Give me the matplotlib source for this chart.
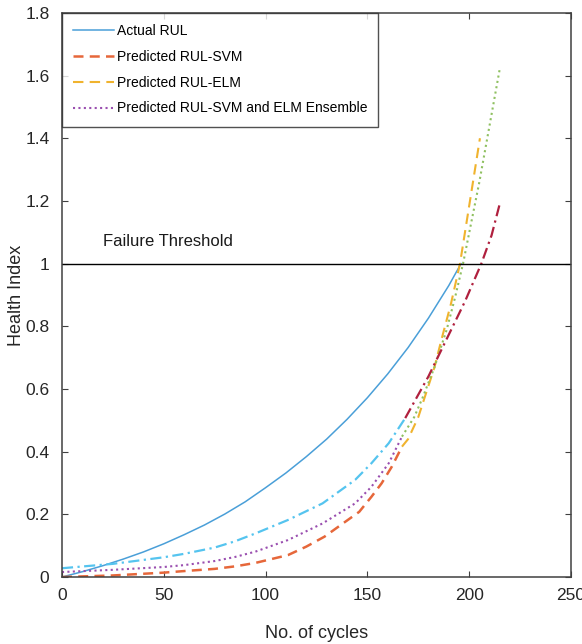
import matplotlib
matplotlib.use("Agg")
import matplotlib.pyplot as plt

plt.rcParams['font.family'] = ['Liberation Sans', 'DejaVu Sans']

# values (cycles, health index)
actual_x = [0, 10, 20, 30, 40, 50, 60, 70, 80, 90, 100, 110, 120, 130, 140, 150, 160, 170, 180, 190, 196]
actual_y = [0, 0.017, 0.036, 0.057, 0.080, 0.106, 0.135, 0.166, 0.201, 0.240, 0.285, 0.332, 0.384,
            0.440, 0.503, 0.572, 0.648, 0.732, 0.826, 0.930, 1.0]

svm_x = [0, 25, 50, 60, 75, 85, 95, 111, 120, 129, 138, 146, 152, 157, 162, 167]
svm_y = [0.0, 0.005, 0.014, 0.019, 0.026, 0.034, 0.045, 0.070, 0.097, 0.129, 0.171, 0.208, 0.256,
         0.299, 0.352, 0.416]

elm_x = [167, 170, 175, 179, 183, 186.5, 191, 195.5, 200.4, 205.3]
elm_y = [0.416, 0.44, 0.51, 0.59, 0.67, 0.76, 0.87, 1.0, 1.2, 1.4]

ens_x = [0, 25, 50, 60, 75, 85, 95, 111, 128, 144, 152, 160.5, 167]
ens_y = [0.016, 0.023, 0.032, 0.038, 0.051, 0.064, 0.081, 0.118, 0.171, 0.235, 0.288, 0.363, 0.448]

ens2_x = [167, 173, 177, 183, 189, 193, 197, 201, 205, 210, 215]
ens2_y = [0.448, 0.51, 0.57, 0.67, 0.79, 0.89, 1.0, 1.13, 1.26, 1.44, 1.62]

dd_x = [0, 25, 50, 60, 75, 85, 95, 111, 128, 144, 152, 160.5, 168.6]
dd_y = [0.028, 0.042, 0.063, 0.074, 0.094, 0.114, 0.139, 0.182, 0.235, 0.310, 0.363, 0.427, 0.507]

dd2_x = [168.6, 174, 180, 189, 198, 206, 211, 215]
dd2_y = [0.507, 0.57, 0.64, 0.76, 0.88, 1.0, 1.09, 1.19]

threshold = 1.0

fig = plt.figure(figsize=(5.82, 6.44), dpi=100)
ax = fig.add_axes([0.1065, 0.104, 0.8745, 0.876])

ax.plot(actual_x, actual_y, color='#4a9fd8', lw=1.1, label='Actual RUL')
ax.plot(svm_x, svm_y, color='#e6673a', lw=1.8, ls=(0, (4, 2.5)), label='Predicted RUL-SVM')
ax.plot(elm_x, elm_y, color='#f0b32e', lw=1.5, ls=(0, (5, 3)), label='Predicted RUL-ELM')
ax.plot(ens_x, ens_y, color='#9a4fb0', lw=1.5, ls=(0, (1, 1.6)),
        label='Predicted RUL-SVM and ELM Ensemble')
ax.plot(ens2_x, ens2_y, color='#8fc060', lw=1.5, ls=(0, (1, 1.6)))
ax.plot(dd_x, dd_y, color='#55c4ef', lw=1.6, ls=(0, (5, 2, 1, 2)))
ax.plot(dd2_x, dd2_y, color='#b0203e', lw=1.6, ls=(0, (5, 2, 1, 2)))

ax.axhline(threshold, color='black', lw=1.0)
ax.text(20, 1.072, 'Failure Threshold', fontsize=12, va='center', ha='left', color='#1a1a1a')

ax.set_xlim(0, 250)
ax.set_ylim(0, 1.8)
ax.set_xticks([0, 50, 100, 150, 200, 250])
ax.set_yticks([0, 0.2, 0.4, 0.6, 0.8, 1.0, 1.2, 1.4, 1.6, 1.8])
ax.set_yticklabels(['0', '0.2', '0.4', '0.6', '0.8', '1', '1.2', '1.4', '1.6', '1.8'])
ax.tick_params(direction='in', top=True, right=True, labelsize=12.5, length=4,
               color='#404040', labelcolor='#262626')
ax.tick_params(axis='y', pad=9)
ax.tick_params(axis='x', pad=8)
for s in ax.spines.values():
    s.set_color('#404040')
    s.set_linewidth(1.1)

ax.set_xlabel('No. of cycles', fontsize=13, color='#262626', labelpad=16)
ax.set_ylabel('Health Index', fontsize=13, color='#262626', labelpad=0)

leg = ax.legend(loc='upper left', fontsize=10, frameon=True, fancybox=False,
                borderaxespad=0, handlelength=2.95, handletextpad=0.2,
                labelspacing=0.85, borderpad=0.8)
leg.get_frame().set_edgecolor('#262626')
leg.get_frame().set_linewidth(1.0)

fig.savefig('out.png', dpi=100)
